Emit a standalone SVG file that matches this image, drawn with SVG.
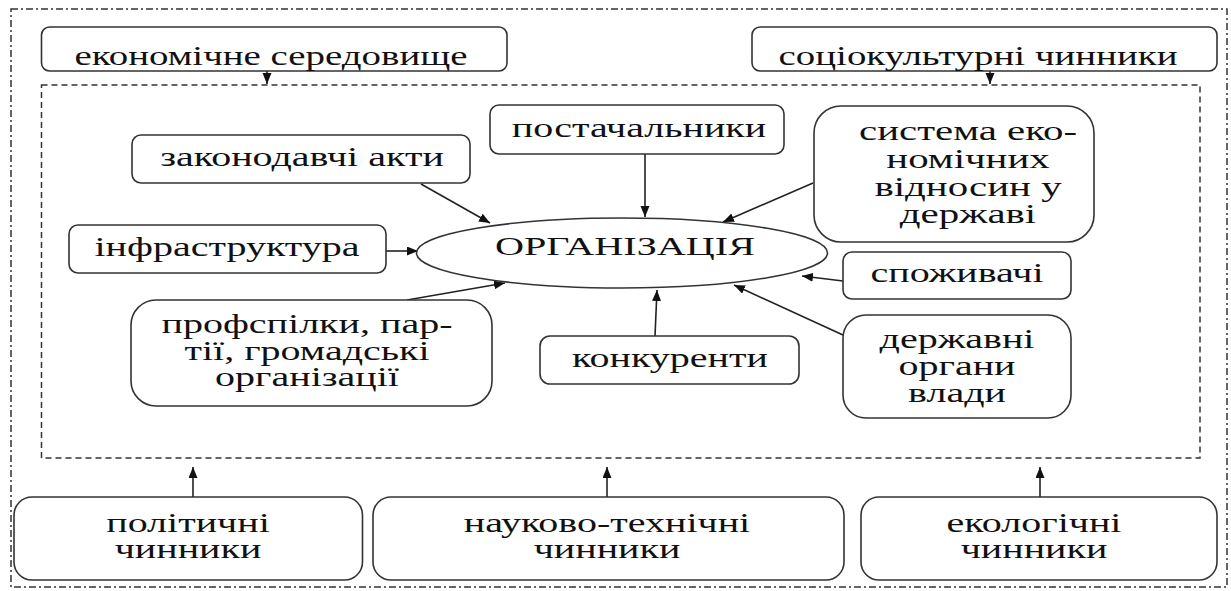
<svg xmlns="http://www.w3.org/2000/svg" width="1231" height="591" viewBox="0 0 1231 591" font-family="Liberation Serif, serif">
<style>
.box{fill:#fff;stroke:#333;stroke-width:1.6}
.t{font-family:'Liberation Serif',serif;font-size:28px;fill:#111;text-anchor:middle}
.c{stroke:#222;stroke-width:1.6;fill:none;marker-end:url(#ah)}
</style>
<defs>
<marker id="ah" markerUnits="userSpaceOnUse" markerWidth="12" markerHeight="10" refX="11" refY="4.5" orient="auto">
<path d="M0,0 L11,4.5 L0,9 z" fill="#111"/>
</marker>
</defs>
<rect width="1231" height="591" fill="#fff"/>
<rect id="outer-frame" x="11" y="9" width="1216" height="578" fill="none" stroke="#333" stroke-width="1.5" stroke-dasharray="7 3 2 3"/>
<rect id="inner-frame" x="41.5" y="85" width="1158.5" height="373" fill="none" stroke="#333" stroke-width="1.5" stroke-dasharray="6 4"/>

<g id="connectors">
<line class="c" x1="267" y1="71" x2="267" y2="84"/>
<line class="c" x1="990" y1="71" x2="990" y2="84"/>
<line class="c" x1="193" y1="497" x2="193" y2="467"/>
<line class="c" x1="607" y1="497" x2="607" y2="467"/>
<line class="c" x1="1040" y1="497" x2="1040" y2="467"/>
<line class="c" x1="421" y1="184" x2="490" y2="223"/>
<line class="c" x1="645" y1="154" x2="645" y2="217"/>
<line class="c" x1="813" y1="183" x2="723" y2="222"/>
<line class="c" x1="386" y1="251" x2="418" y2="251"/>
<line class="c" x1="407" y1="300" x2="505" y2="283"/>
<line class="c" x1="655" y1="336" x2="657" y2="290"/>
<line class="c" x1="843" y1="281" x2="802" y2="276"/>
<line class="c" x1="843" y1="335" x2="734" y2="285"/>
</g>

<g id="n-economic">
<rect class="box" x="41.5" y="27" width="465.5" height="44" rx="8"/>
<text class="t" transform="translate(271,65) scale(1.39,1)">економічне середовище</text>
</g>
<g id="n-sociocultural">
<rect class="box" x="752" y="27" width="465" height="44" rx="8"/>
<text class="t" transform="translate(978,65) scale(1.39,1)">соціокультурні чинники</text>
</g>
<g id="n-legislation">
<rect class="box" x="132" y="135" width="338" height="48" rx="9"/>
<text class="t" transform="translate(302,166) scale(1.43,1)">законодавчі акти</text>
</g>
<g id="n-suppliers">
<rect class="box" x="490" y="105" width="294" height="49" rx="9"/>
<text class="t" transform="translate(639,137) scale(1.43,1)">постачальники</text>
</g>
<g id="n-econ-system">
<rect class="box" x="814" y="106" width="280" height="136" rx="27"/>
<text class="t" transform="translate(968,140) scale(1.46,1)"><tspan x="0" y="0">система еко-</tspan><tspan x="0" y="28">номічних</tspan><tspan x="0" y="56">відносин у</tspan><tspan x="0" y="83">державі</tspan></text>
</g>
<g id="n-infrastructure">
<rect class="box" x="69" y="225" width="317" height="48" rx="9"/>
<text class="t" transform="translate(227,256) scale(1.43,1)">інфраструктура</text>
</g>
<g id="n-organization">
<ellipse cx="622" cy="253" rx="205.5" ry="35" fill="#fff" stroke="#333" stroke-width="1.6"/>
<text x="625" y="255" font-family="Liberation Serif, serif" font-size="25" fill="#111" text-anchor="middle" textLength="260" lengthAdjust="spacingAndGlyphs">ОРГАНІЗАЦІЯ</text>
</g>
<g id="n-consumers">
<rect class="box" x="843" y="252" width="228" height="47" rx="9"/>
<text class="t" transform="translate(957,282) scale(1.43,1)">споживачі</text>
</g>
<g id="n-unions">
<rect class="box" x="131" y="300" width="361" height="106" rx="25"/>
<text class="t" transform="translate(307,333) scale(1.43,1)"><tspan x="0" y="0">профспілки, пар-</tspan><tspan x="0" y="27">тії, громадські</tspan><tspan x="0" y="53">організації</tspan></text>
</g>
<g id="n-competitors">
<rect class="box" x="540" y="336" width="259" height="48" rx="10"/>
<text class="t" transform="translate(670,367) scale(1.43,1)">конкуренти</text>
</g>
<g id="n-state-bodies">
<rect class="box" x="843" y="315" width="228" height="103" rx="23"/>
<text class="t" transform="translate(957,348) scale(1.43,1)"><tspan x="0" y="0">державні</tspan><tspan x="0" y="27">органи</tspan><tspan x="0" y="54">влади</tspan></text>
</g>
<g id="n-political">
<rect class="box" x="14" y="497" width="348.5" height="83" rx="18"/>
<text class="t" transform="translate(188,532) scale(1.43,1)"><tspan x="0" y="0">політичні</tspan><tspan x="0" y="26">чинники</tspan></text>
</g>
<g id="n-scitech">
<rect class="box" x="373" y="497" width="471" height="83" rx="18"/>
<text class="t" transform="translate(607,532) scale(1.43,1)"><tspan x="0" y="0">науково-технічні</tspan><tspan x="0" y="26">чинники</tspan></text>
</g>
<g id="n-ecological">
<rect class="box" x="861" y="497" width="356" height="83" rx="18"/>
<text class="t" transform="translate(1034,532) scale(1.43,1)"><tspan x="0" y="0">екологічні</tspan><tspan x="0" y="26">чинники</tspan></text>
</g>
</svg>
